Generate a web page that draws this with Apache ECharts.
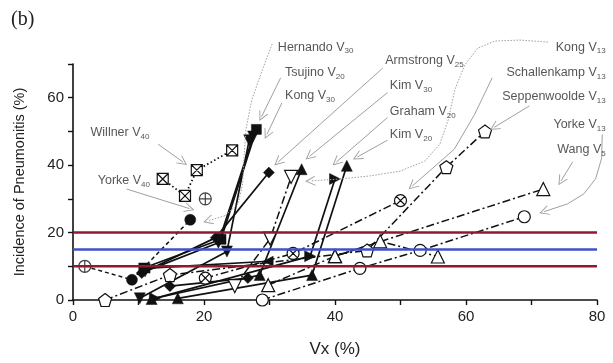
<!DOCTYPE html>
<html><head><meta charset="utf-8">
<script src="https://cdn.jsdelivr.net/npm/echarts@6/dist/echarts.min.js"></script>
<style>html,body{margin:0;padding:0;background:#fff}#c{width:613px;height:363px}</style>
</head><body><div id="c"></div>
<script>
// ---------- data (Vx %, incidence %) ----------
const hernandoV30 = [[10.8,9.5],[22.6,18.0],[28.0,50.6]];
const tsujinoV20  = [[10.2,0.5],[23.5,14.4],[26.9,47.4]];
const kongV30     = [[11.0,8.5],[22.2,17.0],[27.5,48.5]];
const armstrongV25= [[10.5,8.0],[21.8,18.5],[29.9,37.8]];
const kimV30      = [[12.0,0.3],[28.5,7.4],[34.9,38.8]];
const grahamV20   = [[12.5,0.5],[36.2,13.0],[40.0,35.9]];
const kimV20      = [[16.0,0.5],[36.5,7.4],[41.8,39.8]];
const extraLeft   = [[11.0,9.4],[29.8,11.5]];
const extraDiamond= [[14.8,4.1],[26.7,6.5]];
const filledCircle= [[9.0,6.0],[17.9,23.8]];
const willnerV40  = [[13.7,35.9],[17.1,30.9],[18.9,38.5],[24.3,44.4]];
const yorkeV40Pts = [[1.8,10.0],[20.2,30.0]];
const yorkeV40Line= [[1.8,10.0],[9.0,6.0]];
const kongV13     = [[20.2,6.5],[33.6,13.8],[50.0,29.5]];
const openDown    = [[24.7,4.1],[30.1,18.2],[33.3,36.5]];
const seppenV13   = [[4.9,0.0],[14.8,7.4],[44.9,14.7],[57.0,39.4],[62.9,50.0]];
const yorkeV13    = [[28.9,0.0],[43.8,9.4],[53.0,14.7],[68.9,24.7]];
const wangV5a     = [[29.8,4.4],[40.0,13.0],[46.9,17.4],[55.7,12.9]];
const wangV5b     = [[40.0,13.0],[71.8,32.9]];
const refUpper = 20, refMid = 15, refLower = 10;
const xRange = [0, 80];
const yRange = [0, 70];

// annotation labels
const labelNames = ['Hernando V','Tsujino V','Kong V','Armstrong V','Kim V','Graham V','Kim V',
  'Kong V','Schallenkamp V','Seppenwoolde V','Yorke V','Wang V','Willner V','Yorke V'];
const labelSubs = ['30','20','30','25','30','20','20','13','13','13','13','5','40','40'];
const labelPos = [[31.2,75.0],[32.3,67.4],[32.3,60.6],[47.6,70.9],[48.3,63.5],[48.3,55.9],[48.3,49.1],
  [81.4,75.0],[81.4,67.4],[81.4,60.3],[81.4,52.1],[81.4,44.7],[2.6,49.7],[3.7,35.3]];
const labelRight = [false,false,false,false,false,false,false,true,true,true,true,true,false,false];

// annotation pointers (start ... end)
const arrowStraight = [
  [[31.7,65.9],[28.8,54.4]],
  [[31.9,58.5],[29.6,49.1]],
  [[47.3,68.8],[31.3,40.9]],
  [[48.0,61.5],[36.1,42.6]],
  [[48.0,54.1],[40.2,40.9]],
  [[48.0,47.4],[43.4,42.4]],
  [[69.7,57.6],[64.3,51.2]],
  [[76.3,41.0],[74.5,35.3]],
  [[13.0,46.2],[16.8,40.9]],
  [[8.2,32.9],[17.8,27.1]]
];
const arrowPoly = [
  [[64.0,65.9],[61.3,55.0],[58.2,44.7],[51.8,33.8]],
  [[80.8,49.1],[80.7,42.0],[79.8,36.0],[78.0,31.5],[75.5,28.5],[71.9,26.2]]
];
const arrowDotted = [
  [[30.4,75.9],[28.9,68.2],[27.3,59.4],[26.4,50.6],[26.1,41.8],[25.9,34.4],[25.2,28.5],[23.2,25.0],[20.6,23.5]],
  [[72.5,76.5],[68.2,77.1],[64.4,76.8],[61.8,74.7],[59.8,69.7],[58.3,62.4],[57.3,53.5],[56.0,46.2],[53.7,41.2],[49.9,38.2],[45.3,36.8],[40.8,35.9],[36.2,35.3]]
];

// ---------- styling ----------
const SYM = {
  rect:'rect',
  down:'path://M0,0L10,0L5,9Z',
  up:'triangle',
  left:'path://M9,0L9,10L0,5Z',
  right:'path://M0,0L9,5L0,10Z',
  diamond:'diamond',
  circle:'circle',
  pent:'path://M5,0L10,3.6L8.1,9.5L1.9,9.5L0,3.6Z',
  boxX:'path://M0,0L10,0L10,10L0,10Z M0,0L10,10 M10,0L0,10',
  cPlus:'path://M0,5A5,5,0,1,0,10,5A5,5,0,1,0,0,5Z M5,0L5,10 M0,5L10,5',
  cX:'path://M0,5A5,5,0,1,0,10,5A5,5,0,1,0,0,5Z M1.5,1.5L8.5,8.5 M8.5,1.5L1.5,8.5'
};
const LT = {solid:'solid', dashdot:[8,3,2,3], dotted:[1.5,2.5], dashed:[4,3]};
const INK = '#111';
const GRAY = '#a0a0a0';
function S(data, sym, filled, lt, size, lw){
  return {
    type:'line', data:data, symbol:SYM[sym], symbolSize:size||9, clip:false,
    showAllSymbol:true, animation:false, silent:true,
    lineStyle:{color:INK, width:lw||1.7, type:LT[lt]},
    itemStyle: filled ? {color:INK, borderColor:INK, borderWidth:0.5}
                      : {color:'#fff', borderColor:INK, borderWidth:1.2},
    z:3
  };
}
function refLine(v, color){
  return {type:'line', data:[[xRange[0],v],[xRange[1],v]], symbol:'none', silent:true, animation:false,
    lineStyle:{color:color, width:2.6}, z:4};
}
const chevron = 'path://M0,10L5,0L10,10L9,10L5,2.2L1,10Z';
function lineType(dashed){ return dashed ? [1.5,1.5] : 'solid'; }
function arrowHeads(list, dashed){
  return {type:'lines', coordinateSystem:'cartesian2d', polyline:false, clip:false, silent:true, animation:false,
    symbol:['none', chevron], symbolSize:[9,10],
    lineStyle:{color:GRAY, width:1, type:lineType(dashed), opacity:1, curveness:0},
    data:list.map(c=>({coords:[c[c.length-2], c[c.length-1]]})), z:5};
}
function polyLines(list, dashed){
  return {type:'lines', coordinateSystem:'cartesian2d', polyline:true, clip:false, silent:true, animation:false,
    symbol:'none',
    lineStyle:{color:GRAY, width:1, type:lineType(dashed), opacity:1},
    data:list.map(c=>({coords:c.slice(0, c.length-1)})), z:5};
}

const series = [
  S(seppenV13,'pent',false,'dashdot',13,1.5),
  S(yorkeV13,'circle',false,'dashdot',12,1.5),
  S(wangV5a,'up',false,'dashdot',13,1.5),
  S(wangV5b,'up',false,'dashdot',13,1.5),
  S(kongV13,'cX',false,'dashdot',12,1.5),
  S(openDown,'down',false,'dashdot',13,1.5),
  S(willnerV40,'boxX',false,'dotted',11,1.8),
  {type:'line', data:yorkeV40Line, symbol:'none', clip:false, silent:true, animation:false,
    lineStyle:{color:INK,width:1.4,type:LT.dashed}, z:3},
  {type:'scatter', data:yorkeV40Pts, symbol:SYM.cPlus, symbolSize:12, clip:false, silent:true, animation:false,
    itemStyle:{color:'#fff',borderColor:INK,borderWidth:1.2}, z:3},
  S(filledCircle,'circle',true,'dashed',11,1.5),
  S(extraLeft,'left',true,'solid',10),
  S(extraDiamond,'diamond',true,'solid',11),
  S(kimV20,'up',true,'solid',11),
  S(grahamV20,'right',true,'solid',11),
  S(kimV30,'up',true,'solid',11),
  S(armstrongV25,'diamond',true,'solid',11),
  S(kongV30,'down',true,'solid',11),
  S(tsujinoV20,'down',true,'solid',11),
  S(hernandoV30,'rect',true,'solid',10),
  refLine(refUpper,'#8d1b2d'),
  refLine(refLower,'#8d1b2d'),
  refLine(refMid,'#4152c9'),
  arrowHeads(arrowStraight,false),
  polyLines(arrowPoly,false),
  arrowHeads(arrowPoly,false),
  polyLines(arrowDotted,true),
  arrowHeads(arrowDotted,true),
  {type:'scatter', clip:false, silent:true, animation:false, symbol:'circle', symbolSize:1,
    itemStyle:{color:'rgba(0,0,0,0)'}, z:6,
    data: labelNames.map((n,i)=>({value:labelPos[i], name:n, sub:labelSubs[i],
      label:{position: labelRight[i] ? 'left' : 'right'}})),
    label:{show:true, distance:0, color:'#2a2a2a',
      formatter:p=>'{n|'+p.data.name+'}{s|'+p.data.sub+'}',
      rich:{n:{fontSize:12.5,fontFamily:'Liberation Sans',color:'#2a2a2a',lineHeight:16},
            s:{fontSize:8,fontFamily:'Liberation Sans',color:'#2a2a2a',verticalAlign:'bottom',lineHeight:16,padding:[7,0,0,0]}}}
  }
];

const chart = echarts.init(document.getElementById('c'), null, {renderer:'canvas'});
chart.setOption({
  animation:false,
  backgroundColor:'#fff',
  title:{text:'(b)', left:6, top:5, textStyle:{fontFamily:'Liberation Serif', fontSize:20, fontWeight:'normal', color:'#222'}},
  grid:{left:73, right:16, top:64, bottom:61, containLabel:false},
  xAxis:{type:'value', min:xRange[0], max:xRange[1], interval:10,
    name:'Vx (%)', nameLocation:'middle', nameGap:41,
    nameTextStyle:{fontFamily:'Liberation Sans', fontSize:17, color:'#222'},
    axisLine:{lineStyle:{color:INK, width:1.6}},
    axisTick:{inside:false, length:5, lineStyle:{color:INK, width:1.4}},
    axisLabel:{formatter:v=> v%20===0 ? String(v) : '', fontFamily:'Liberation Sans', fontSize:15, color:'#222', margin:9},
    splitLine:{show:false}},
  yAxis:{type:'value', min:yRange[0], max:yRange[1], interval:10,
    name:'Incidence of Pneumonitis (%)', nameLocation:'middle', nameGap:46,
    nameTextStyle:{fontFamily:'Liberation Sans', fontSize:14.5, color:'#222'},
    axisLine:{show:true, lineStyle:{color:INK, width:1.6}},
    axisTick:{show:true, inside:false, length:5, lineStyle:{color:INK, width:1.4}},
    axisLabel:{formatter:v=> v%20===0 ? String(v) : '', fontFamily:'Liberation Sans', fontSize:15, color:'#222', margin:9},
    splitLine:{show:false}},
  series: series
});
</script></body></html>
